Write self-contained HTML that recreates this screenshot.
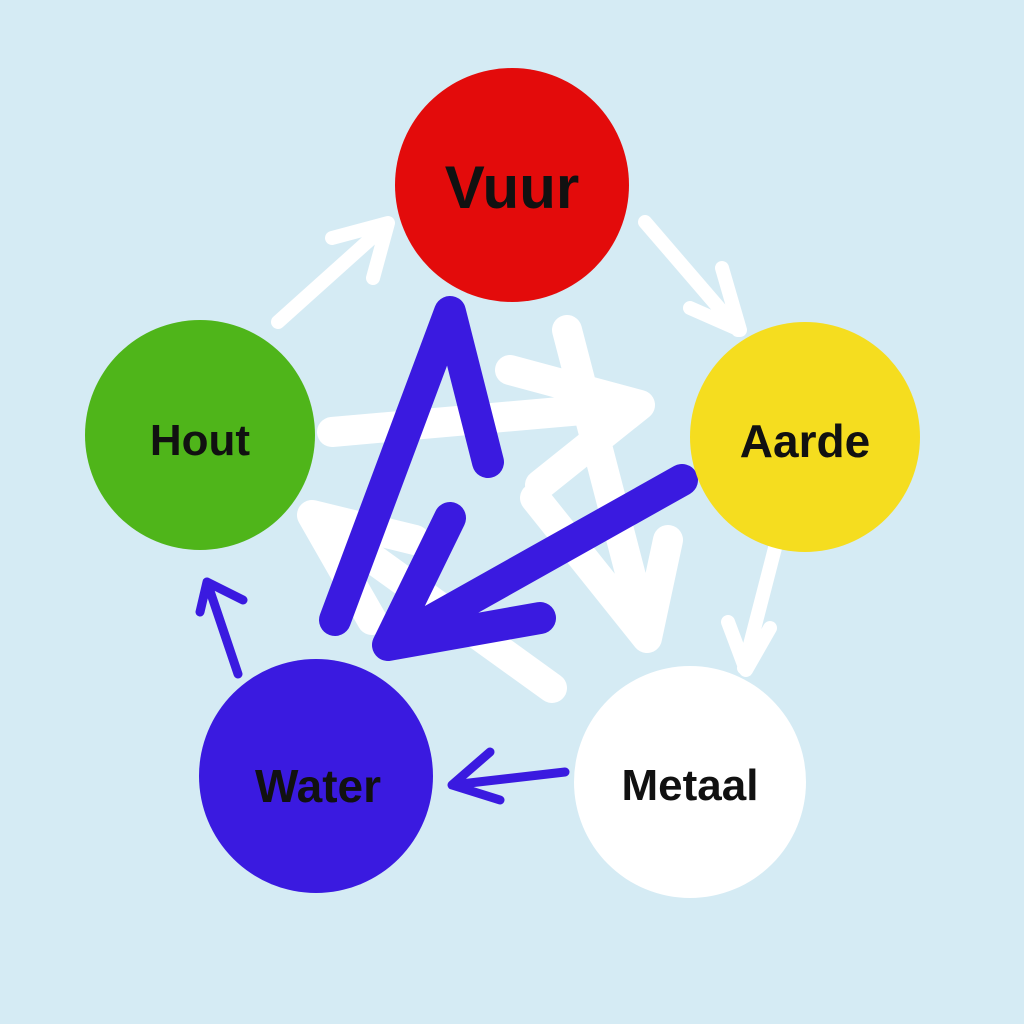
<!DOCTYPE html>
<html><head><style>
body{margin:0;width:1024px;height:1024px;background:#d5ebf4;overflow:hidden}
svg{position:absolute;left:0;top:0}
</style></head><body>
<svg width="1024" height="1024" viewBox="0 0 1024 1024">
<rect width="1024" height="1024" fill="#d5ebf4"/>
<g stroke="#fff" fill="none" stroke-linecap="round" stroke-linejoin="round">
 <g stroke-width="14">
  <path d="M278 322 L385 226 M332 238 L388 223 L373 278"/>
  <path d="M645 222 L738 330 M690 308 L740 330 L722 268"/>
  <path d="M775 548 L744 668 M728 622 L746 670 L770 628"/>
 </g>
 <g stroke-width="30">
  <path d="M332 432 L640 405 M510 370 L640 405 L540 485"/>
  <path d="M567 330 L647 638 M535 498 L647 638 L668 540"/>
  <path d="M552 688 L312 515 M415 540 L312 515 L372 620"/>
 </g>
</g>
<g stroke="#3a1ae0" fill="none" stroke-linecap="round" stroke-linejoin="round">
 <path d="M335 620 L450 312 L488 462" stroke-width="32"/>
 <path d="M682 480 L388 645 M450 518 L388 645 L540 618" stroke-width="32"/>
 <path d="M238 674 L207 582 M200 612 L207 582 L243 600" stroke-width="9"/>
 <path d="M565 772 L452 785 M490 752 L452 785 L500 800" stroke-width="9"/>
</g>
<circle cx="512" cy="185" r="117" fill="#e30b0b"/>
<circle cx="200" cy="435" r="115" fill="#4fb51a"/>
<circle cx="805" cy="437" r="115" fill="#f5dd1f"/>
<circle cx="316" cy="776" r="117" fill="#3a1ae0"/>
<circle cx="690" cy="782" r="116" fill="#ffffff"/>
<g font-family="Liberation Sans, sans-serif" font-weight="bold" fill="#111" text-anchor="middle">
 <text x="512" y="208" font-size="60">Vuur</text>
 <text x="200" y="455" font-size="44">Hout</text>
 <text x="805" y="457" font-size="46">Aarde</text>
 <text x="318" y="802" font-size="46">Water</text>
 <text x="690" y="800" font-size="44">Metaal</text>
</g>
</svg>
</body></html>
